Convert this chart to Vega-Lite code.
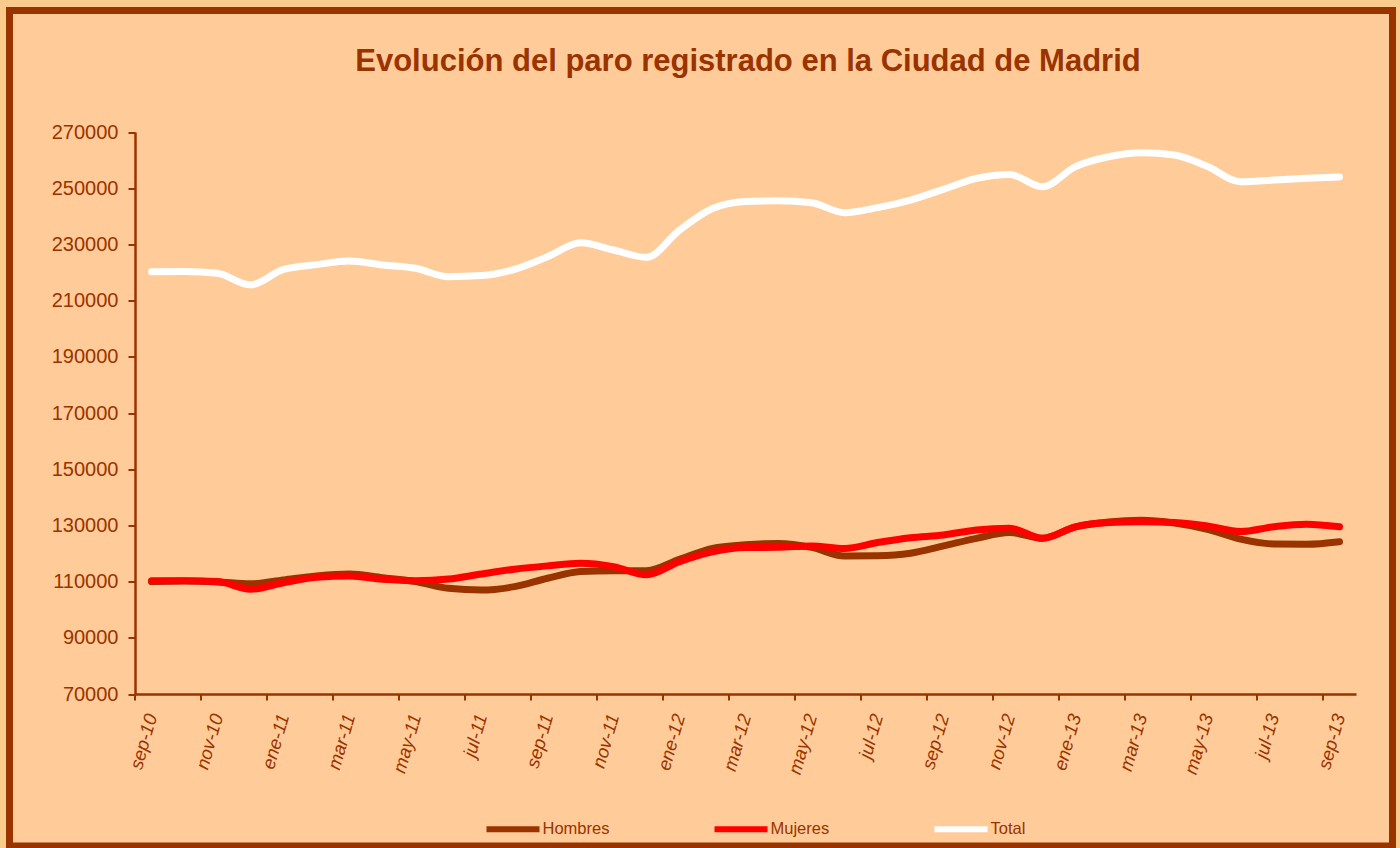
{
  "$schema": "https://vega.github.io/schema/vega-lite/v6.json",
  "autosize": {"type": "none"},
  "width": 1383,
  "height": 835.5,
  "padding": {"left": 9.5, "top": 10.5, "right": 7.5, "bottom": 2},
  "background": "#F9CC8E",
  "view": {"fill": "#FFCC99", "stroke": "#993300", "strokeWidth": 7},
  "title": {"text": "Evolución del paro registrado en la Ciudad de Madrid", "fontSize": 31, "font": "Liberation Sans", "fontWeight": "bold", "color": "#993300", "offset": -67, "dx": 47, "anchor": "middle"},
  "data": {"values": [
    {"mes": "sep-10", "Hombres": 110000, "Mujeres": 110300, "Total": 220300},
    {"mes": "oct-10", "Hombres": 110200, "Mujeres": 110300, "Total": 220400},
    {"mes": "nov-10", "Hombres": 109900, "Mujeres": 110000, "Total": 219700},
    {"mes": "dic-10", "Hombres": 109200, "Mujeres": 107300, "Total": 215600},
    {"mes": "ene-11", "Hombres": 110600, "Mujeres": 109600, "Total": 221100},
    {"mes": "feb-11", "Hombres": 112000, "Mujeres": 111500, "Total": 222800},
    {"mes": "mar-11", "Hombres": 112700, "Mujeres": 112000, "Total": 224100},
    {"mes": "abr-11", "Hombres": 111400, "Mujeres": 110800, "Total": 222700},
    {"mes": "may-11", "Hombres": 110000, "Mujeres": 110300, "Total": 221500},
    {"mes": "jun-11", "Hombres": 107600, "Mujeres": 110900, "Total": 218500},
    {"mes": "jul-11", "Hombres": 107000, "Mujeres": 112700, "Total": 218900},
    {"mes": "ago-11", "Hombres": 108200, "Mujeres": 114400, "Total": 221100},
    {"mes": "sep-11", "Hombres": 111200, "Mujeres": 115600, "Total": 225600},
    {"mes": "oct-11", "Hombres": 113600, "Mujeres": 116500, "Total": 230600},
    {"mes": "nov-11", "Hombres": 113900, "Mujeres": 115300, "Total": 228000},
    {"mes": "dic-11", "Hombres": 113900, "Mujeres": 112400, "Total": 225400},
    {"mes": "ene-12", "Hombres": 117900, "Mujeres": 117100, "Total": 235100},
    {"mes": "feb-12", "Hombres": 121800, "Mujeres": 120600, "Total": 242800},
    {"mes": "mar-12", "Hombres": 123100, "Mujeres": 122100, "Total": 245300},
    {"mes": "abr-12", "Hombres": 123600, "Mujeres": 122200, "Total": 245500},
    {"mes": "may-12", "Hombres": 122200, "Mujeres": 122700, "Total": 244800},
    {"mes": "jun-12", "Hombres": 119100, "Mujeres": 121800, "Total": 241300},
    {"mes": "jul-12", "Hombres": 119200, "Mujeres": 123900, "Total": 243100},
    {"mes": "ago-12", "Hombres": 120100, "Mujeres": 125600, "Total": 245800},
    {"mes": "sep-12", "Hombres": 122700, "Mujeres": 126600, "Total": 249600},
    {"mes": "oct-12", "Hombres": 125400, "Mujeres": 128400, "Total": 253500},
    {"mes": "nov-12", "Hombres": 127500, "Mujeres": 129000, "Total": 254900},
    {"mes": "dic-12", "Hombres": 125400, "Mujeres": 125400, "Total": 250500},
    {"mes": "ene-13", "Hombres": 129500, "Mujeres": 129500, "Total": 257700},
    {"mes": "feb-13", "Hombres": 131200, "Mujeres": 131000, "Total": 261200},
    {"mes": "mar-13", "Hombres": 131800, "Mujeres": 131300, "Total": 262600},
    {"mes": "abr-13", "Hombres": 130800, "Mujeres": 131000, "Total": 261800},
    {"mes": "may-13", "Hombres": 128600, "Mujeres": 129800, "Total": 257700},
    {"mes": "jun-13", "Hombres": 125100, "Mujeres": 127800, "Total": 252300},
    {"mes": "jul-13", "Hombres": 123400, "Mujeres": 129500, "Total": 252900},
    {"mes": "ago-13", "Hombres": 123300, "Mujeres": 130400, "Total": 253500},
    {"mes": "sep-13", "Hombres": 124200, "Mujeres": 129500, "Total": 254000}
  ]},
  "transform": [{"fold": ["Hombres", "Mujeres", "Total"], "as": ["serie", "valor"]}],
  "mark": {"type": "line", "strokeWidth": 7, "interpolate": "monotone", "strokeCap": "round", "strokeJoin": "round"},
  "encoding": {
    "x": {
      "field": "mes", "type": "nominal", "sort": null,
      "scale": {"type": "band", "paddingInner": 0, "paddingOuter": 0, "range": [125.5, 1346.5]},
      "axis": {
        "title": null, "orient": "bottom", "offset": -152,
        "values": ["sep-10", "nov-10", "ene-11", "mar-11", "may-11", "jul-11", "sep-11", "nov-11", "ene-12", "mar-12", "may-12", "jul-12", "sep-12", "nov-12", "ene-13", "mar-13", "may-13", "jul-13", "sep-13"],
        "bandPosition": 0,
        "labelAngle": -74, "labelAlign": "right", "labelBaseline": "middle",
        "labelFont": "Liberation Sans", "labelFontStyle": "italic", "labelFontSize": 18.5, "labelColor": "#993300",
        "labelOverlap": false, "labelPadding": 14,
        "domainColor": "#993300", "domainWidth": 2.5,
        "tickColor": "#993300", "tickWidth": 2, "tickSize": 6,
        "grid": false
      }
    },
    "y": {
      "field": "valor", "type": "quantitative",
      "scale": {"domain": [70000, 270000], "nice": false, "zero": false, "range": [683.5, 121.5]},
      "axis": {
        "title": null, "offset": -125.5,
        "values": [70000, 90000, 110000, 130000, 150000, 170000, 190000, 210000, 230000, 250000, 270000],
        "format": "d",
        "labelFont": "Liberation Sans", "labelFontSize": 20, "labelColor": "#993300", "labelPadding": 10,
        "domainColor": "#993300", "domainWidth": 2.5,
        "tickColor": "#993300", "tickWidth": 2, "tickSize": 7,
        "grid": false
      }
    },
    "color": {
      "field": "serie", "type": "nominal",
      "scale": {"domain": ["Hombres", "Mujeres", "Total"], "range": ["#993300", "#FF0000", "#FFFFFF"]},
      "legend": {
        "title": null, "orient": "none", "legendX": 474, "legendY": 789,
        "direction": "horizontal", "symbolType": "stroke", "symbolStrokeWidth": 6, "symbolSize": 2809,
        "labelFont": "Liberation Sans", "labelFontSize": 16.5, "labelColor": "#993300",
        "columnPadding": 93, "labelOffset": 0, "padding": 0
      }
    }
  }
}
